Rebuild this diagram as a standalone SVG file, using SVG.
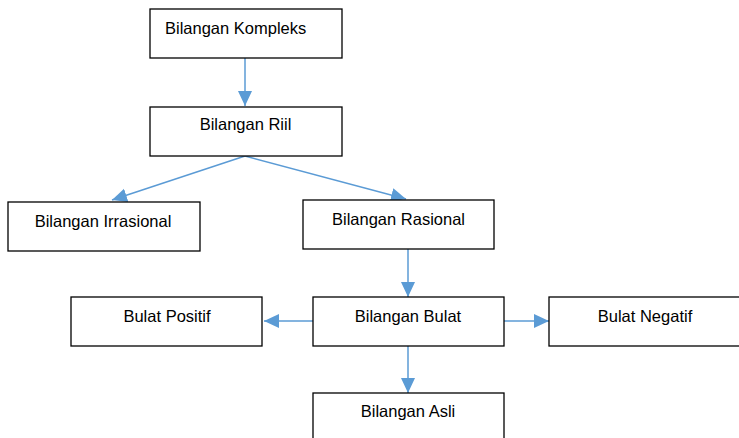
<svg xmlns="http://www.w3.org/2000/svg" width="739" height="438" viewBox="0 0 739 438">
<defs>
<style>
.box{fill:#fff;stroke:#000;stroke-width:1.3}
.lbl{font-family:"Liberation Sans",Arial,sans-serif;font-size:16.5px;fill:#000;text-anchor:middle}
.con{stroke:#5b9bd5;stroke-width:1.5;fill:none}
</style>
<marker id="ah" markerUnits="userSpaceOnUse" markerWidth="16" markerHeight="16" viewBox="0 0 16 16" refX="15" refY="8" orient="auto">
<path d="M0,1 L15,8 L0,15 Z" fill="#5b9bd5"/>
</marker>
</defs>
<rect width="739" height="438" fill="#fff"/>
<g id="connectors">
<line class="con" x1="245" y1="58" x2="245" y2="106" marker-end="url(#ah)"/>
<line class="con" x1="245" y1="156" x2="112" y2="200" marker-end="url(#ah)"/>
<line class="con" x1="245" y1="156" x2="406" y2="199" marker-end="url(#ah)"/>
<line class="con" x1="408" y1="249" x2="408" y2="297" marker-end="url(#ah)"/>
<line class="con" x1="313" y1="321" x2="264" y2="321" marker-end="url(#ah)"/>
<line class="con" x1="504" y1="321" x2="549" y2="321" marker-end="url(#ah)"/>
<line class="con" x1="408" y1="346" x2="408" y2="393" marker-end="url(#ah)"/>
</g>
<g id="kompleks"><rect class="box" x="150" y="9" width="192" height="49"/><text class="lbl" x="165" y="34" style="text-anchor:start">Bilangan Kompleks</text></g>
<g id="riil"><rect class="box" x="150" y="107" width="192" height="49"/><text class="lbl" x="245.5" y="130">Bilangan Riil</text></g>
<g id="irrasional"><rect class="box" x="8" y="202" width="192" height="49"/><text class="lbl" x="103" y="227">Bilangan Irrasional</text></g>
<g id="rasional"><rect class="box" x="303" y="200" width="191" height="49"/><text class="lbl" x="398.5" y="225">Bilangan Rasional</text></g>
<g id="positif"><rect class="box" x="71" y="297" width="191" height="49"/><text class="lbl" x="167" y="322">Bulat Positif</text></g>
<g id="bulat"><rect class="box" x="313" y="297" width="191" height="49"/><text class="lbl" x="408" y="322">Bilangan Bulat</text></g>
<g id="negatif"><rect class="box" x="549" y="297" width="200" height="49"/><text class="lbl" x="645" y="322">Bulat Negatif</text></g>
<g id="asli"><rect class="box" x="313" y="393" width="191" height="60"/><text class="lbl" x="408" y="417">Bilangan Asli</text></g>
</svg>
